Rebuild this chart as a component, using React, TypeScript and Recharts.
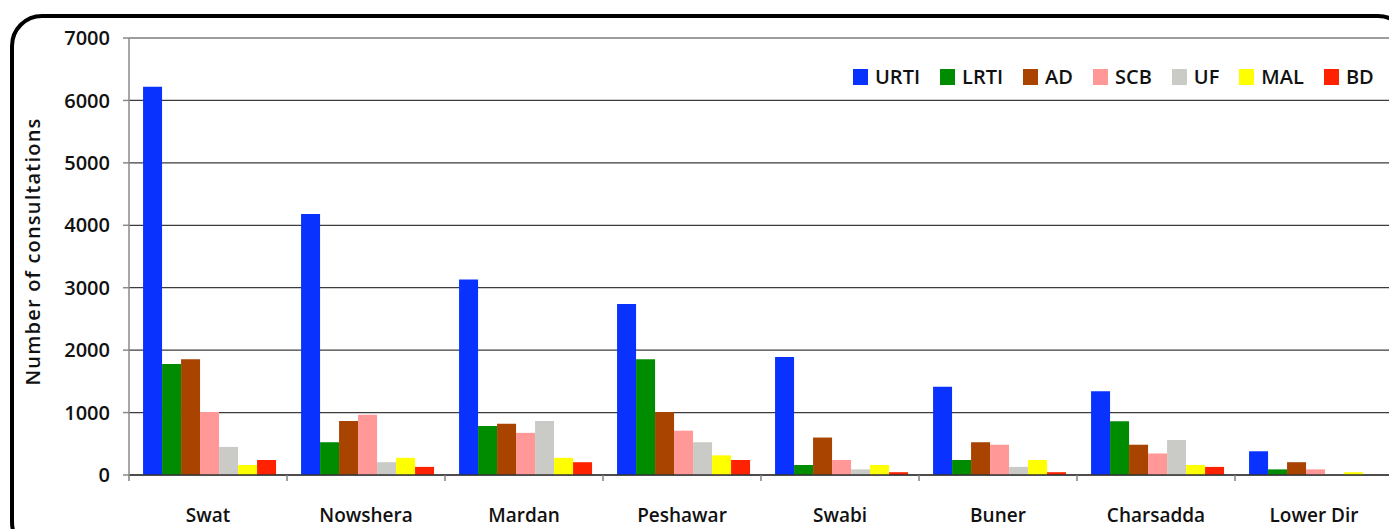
import React from 'react';
import { BarChart, Bar, XAxis, YAxis, CartesianGrid, Legend } from 'recharts';

const districts = ['Swat', 'Nowshera', 'Mardan', 'Peshawar', 'Swabi', 'Buner', 'Charsadda', 'Lower Dir'];
const urti = [6220, 4180, 3130, 2740, 1890, 1415, 1340, 380];
const lrti = [1780, 525, 785, 1855, 160, 240, 860, 90];
const ad = [1855, 865, 820, 1010, 600, 525, 485, 205];
const scb = [1010, 965, 675, 710, 240, 485, 345, 90];
const uf = [450, 205, 865, 525, 90, 130, 560, 5];
const mal = [160, 275, 275, 315, 160, 240, 160, 45];
const bd = [240, 130, 205, 240, 45, 45, 130, 0];
const yTicks = [0, 1000, 2000, 3000, 4000, 5000, 6000, 7000];

const seriesNames = ['URTI', 'LRTI', 'AD', 'SCB', 'UF', 'MAL', 'BD'];
const seriesValues = [urti, lrti, ad, scb, uf, mal, bd];
const seriesColors = ['#0A32FF', '#008C00', '#A84300', '#FF9896', '#CACBC7', '#FFFF00', '#FF2200'];

const data = districts.map((d, i) => {
  const row: Record<string, string | number> = { district: d };
  seriesNames.forEach((n, k) => {
    row[n] = seriesValues[k][i];
  });
  return row;
});

const FONT = '"Open Sans", Lato, sans-serif';
const WEIGHT = 600;

const XTick = (props: any) => {
  const { x, y, payload } = props;
  const half = payload && typeof payload.offset === 'number' ? payload.offset : 0;
  const axisY = y - 8;
  return (
    <g>
      <line x1={x - half} x2={x - half} y1={axisY} y2={axisY + 6} stroke="#808080" strokeWidth={1.5} />
      <text x={x} y={axisY + 47} textAnchor="middle" fontFamily={FONT} fontWeight={WEIGHT} fontSize={19} fill="#111">
        {payload.value}
      </text>
    </g>
  );
};

const YLabel = (props: any) => {
  const vb = props.viewBox || { x: 0, y: 0, width: 0, height: 0 };
  const cx = vb.x + 40;
  const cy = vb.y + vb.height / 2 - 5;
  return (
    <text
      x={cx}
      y={cy}
      transform={`rotate(-90, ${cx}, ${cy})`}
      textAnchor="middle"
      fontFamily={FONT}
      fontWeight={WEIGHT}
      fontSize={20}
      letterSpacing={1.2}
      fill="#111"
    >
      Number of consultations
    </text>
  );
};

const renderLegend = (props: any) => {
  const payload = [...(props.payload || [])].sort(
    (a: any, b: any) => seriesNames.indexOf(a.value) - seriesNames.indexOf(b.value)
  );
  return (
    <div style={{ display: 'flex', alignItems: 'center', fontFamily: FONT, fontWeight: WEIGHT, fontSize: 20, color: '#111', whiteSpace: 'nowrap' }}>
      {payload.map((e: any) => (
        <div key={e.value} style={{ display: 'flex', alignItems: 'center', marginRight: 20 }}>
          <span style={{ display: 'inline-block', width: 15, height: 16, background: e.color, marginRight: 7 }} />
          <span>{e.value}</span>
        </div>
      ))}
    </div>
  );
};

export default function App() {
  return (
    <div style={{ position: 'fixed', left: 0, top: 0, width: 1389, height: 529, overflow: 'hidden', background: '#fff' }}>
      <div
        style={{
          position: 'absolute',
          left: 10,
          top: 14,
          width: 1400,
          height: 540,
          border: '4px solid #000',
          borderRadius: 32,
          boxSizing: 'border-box',
        }}
      />
      <div style={{ position: 'absolute', left: 0, top: 0 }}>
        <BarChart
          width={1403}
          height={529}
          data={data}
          margin={{ top: 38, right: 10, left: 0, bottom: 0 }}
          barCategoryGap="8.9%"
          barGap={0}
        >
          <CartesianGrid vertical={false} stroke="#3c3c3c" strokeWidth={1.2} />
          <XAxis
            dataKey="district"
            height={54}
            tickSize={6}
            tickMargin={2}
            tickLine={false}
            axisLine={{ stroke: '#333', strokeWidth: 1.5 }}
            tick={<XTick />}
            interval={0}
          />
          <YAxis
            width={129}
            domain={[0, 7000]}
            ticks={yTicks}
            interval={0}
            tickSize={6}
            tickMargin={13}
            axisLine={{ stroke: '#8a8a8a', strokeWidth: 1.5 }}
            tickLine={{ stroke: '#8a8a8a', strokeWidth: 1.5 }}
            tick={{ fontFamily: FONT, fontWeight: WEIGHT, fontSize: 20, fill: '#111' }}
            label={<YLabel />}
          />
          <Legend
            content={renderLegend}
            verticalAlign="top"
            wrapperStyle={{ position: 'absolute', left: 853, top: 63, width: 'auto', height: 0, overflow: 'visible' }}
          />
          {seriesNames.map((n, k) => (
            <Bar key={n} dataKey={n} name={n} fill={seriesColors[k]} isAnimationActive={false} />
          ))}
        </BarChart>
      </div>
    </div>
  );
}
